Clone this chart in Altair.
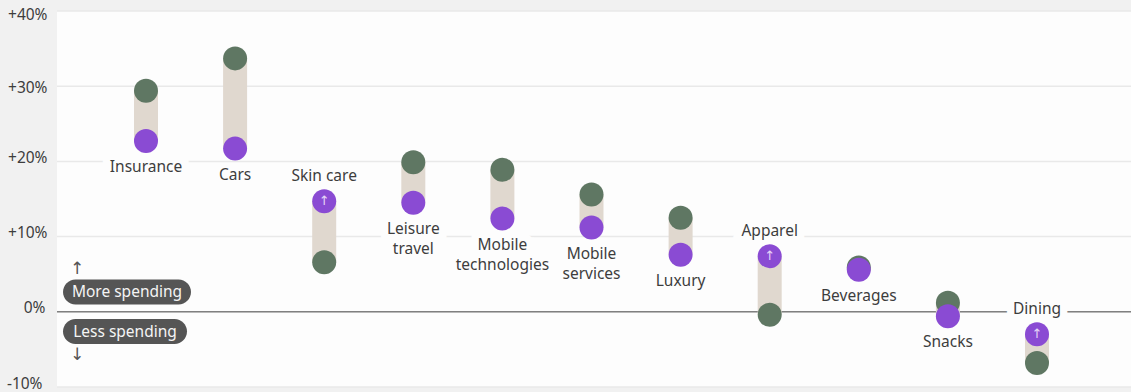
import altair as alt
import pandas as pd

categories = ["Insurance", "Cars", "Skin care", "Leisure travel", "Mobile technologies",
              "Mobile services", "Luxury", "Apparel", "Beverages", "Snacks", "Dining"]
green_values = [29.4, 33.7, 6.6, 19.9, 18.9, 15.6, 12.5, -0.4, 5.9, 1.2, -6.8]
purple_values = [22.7, 21.7, 14.7, 14.5, 12.4, 11.2, 7.6, 7.4, 5.6, -0.6, -3.0]
label_first = ["Insurance", "Cars", "Skin care", "Leisure", "Mobile",
               "Mobile", "Luxury", "Apparel", "Beverages", "Snacks", "Dining"]
label_second = ["", "", "", "travel", "technologies", "services", "", "", "", "", ""]
label_side = ["below", "below", "above", "below", "below", "below",
              "below", "above", "below", "below", "above"]
label_clears_grid = [True, False, False, True, True, False, False, True, False, False, True]
y_ticks = [-10, 0, 10, 20, 30, 40]

FONT = "Noto Sans"
INK = "#3d3d3d"
PANEL = "#fdfdfd"
GREEN = "#5f7763"
PURPLE = "#8a4bd3"
RANGE = "#e0d8cf"
PILL = "#555555"
DOT_AREA = 576
LABEL_SIZE = 15.5
PLOT_W = 1074
PLOT_H = 376

df = pd.DataFrame({
    "category": categories,
    "green": green_values,
    "purple": purple_values,
    "first": label_first,
    "second": label_second,
    "side": label_side,
    "clears": label_clears_grid,
})
df["low"] = df[["green", "purple"]].min(axis=1)
df["high"] = df[["green", "purple"]].max(axis=1)
df["rising"] = df["purple"] > df["green"]

x_enc = alt.X("category:N", axis=None,
              scale=alt.Scale(type="point", domain=categories, range=[89, 980], padding=0))
y_scale = alt.Scale(domain=[-10, 40], nice=False)
y_axis = alt.Axis(
    values=y_ticks, title=None, domain=False, ticks=False, grid=False,
    labelFont=FONT, labelFontSize=15.5, labelColor=INK,
    labelPadding=alt.ExprRef("datum.value < 0 ? 15 : datum.value == 0 ? 12 : 10"),
    labelExpr="datum.value > 0 ? '+' + datum.value + '%' : datum.value + '%'",
    labelOffset=alt.ExprRef("datum.value >= 40 ? 3 : datum.value >= 30 ? 1 : -4"),
)


def y_of(field):
    # Every layer shares one scale and one axis definition, so Vega-Lite merges them.
    return alt.Y(f"{field}:Q", scale=y_scale, axis=y_axis)


base = alt.Chart(df).encode(x=x_enc)

# Gridlines run the full panel width, wider than the category range.
grid = alt.Chart(pd.DataFrame({"v": y_ticks})).mark_rule(color="#e9e9e9", strokeWidth=1.5).encode(
    x=alt.value(0), x2=alt.value(PLOT_W), y=y_of("v"))
zero = alt.Chart(pd.DataFrame({"v": [0]})).mark_rule(color="#808080", strokeWidth=1.5).encode(
    x=alt.value(0), x2=alt.value(PLOT_W), y=y_of("v"))


def label_layer(text_field, anchor_field, side, offset, **mark_kw):
    return base.transform_filter(alt.datum.side == side).mark_text(
        font=FONT, fontSize=LABEL_SIZE, dy=offset, **mark_kw
    ).encode(y=y_of(anchor_field), text=alt.Text(f"{text_field}:N"))


halo_style = dict(color=PANEL, stroke=PANEL, strokeWidth=15, strokeJoin="miter")
halo_above = label_layer("first", "high", "above", -25, **halo_style).transform_filter(alt.datum.clears)
halo_below = label_layer("first", "low", "below", 26, **halo_style).transform_filter(alt.datum.clears)

ranges = base.mark_bar(color=RANGE, size=24).encode(y=y_of("green"), y2="purple:Q")
green_dots = base.mark_point(filled=True, opacity=1, shape="circle", size=DOT_AREA, color=GREEN).encode(
    y=y_of("green"))
purple_dots = base.mark_point(filled=True, opacity=1, shape="circle", size=DOT_AREA, color=PURPLE).encode(
    y=y_of("purple"))
rise_arrows = base.transform_filter(alt.datum.rising).mark_text(
    font="DejaVu Sans", fontSize=13, color="#e6d6f7").encode(
    y=y_of("purple"), text=alt.value("↑"))

labels_above = label_layer("first", "high", "above", -25, color=INK)
labels_below = label_layer("first", "low", "below", 26, color=INK)
labels_second = label_layer("second", "low", "below", 46, color=INK)


def pill(left, right, top, bottom, text):
    frame = pd.DataFrame({"t": [text]})
    box = alt.Chart(frame).mark_rect(cornerRadius=12.5, color=PILL).encode(
        x=alt.value(left), x2=alt.value(right), y=alt.value(top), y2=alt.value(bottom))
    caption = alt.Chart(frame).mark_text(
        font=FONT, fontSize=15.5, color="#f4f4f4", align="center").encode(
        x=alt.value((left + right) / 2), y=alt.value((top + bottom) / 2), text="t:N")
    return box + caption


def hint_arrow(glyph, top):
    return alt.Chart(pd.DataFrame({"t": [glyph]})).mark_text(
        font="DejaVu Sans", fontSize=17, color=PILL).encode(
        x=alt.value(20), y=alt.value(top), text="t:N")


chart = alt.layer(
    grid, zero, halo_above, halo_below, ranges, green_dots, purple_dots, rise_arrows,
    labels_above, labels_below, labels_second,
    pill(6, 134, 268.5, 293.5, "More spending"),
    pill(6, 130, 308, 333, "Less spending"),
    hint_arrow("↑", 258), hint_arrow("↓", 344),
).properties(
    width=PLOT_W, height=PLOT_H, background="#f1f1f1",
    padding={"left": 57, "top": 11, "right": 0, "bottom": 5},
    autosize=alt.AutoSizeParams(type="none"),
).configure_view(fill=PANEL, stroke=None)

chart.save("out.html", embed_options={"renderer": "svg", "actions": False})
